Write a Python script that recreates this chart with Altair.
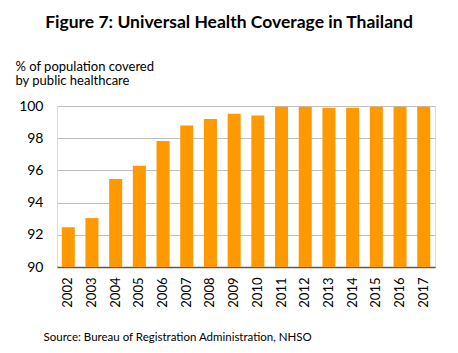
import altair as alt
import pandas as pd

years = ["2002", "2003", "2004", "2005", "2006", "2007", "2008", "2009",
         "2010", "2011", "2012", "2013", "2014", "2015", "2016", "2017"]
coverage = [92.47, 93.04, 95.47, 96.29, 97.83, 98.79, 99.2, 99.52,
            99.41, 99.95, 99.95, 99.89, 99.89, 99.95, 99.95, 99.95]

df = pd.DataFrame({"year": years, "coverage": coverage})

FONT = "Lato"

chart = alt.Chart(df).mark_bar(color="#FF9900").encode(
    x=alt.X("year:N", sort=years,
            scale=alt.Scale(paddingInner=0.45, paddingOuter=0.2),
            axis=alt.Axis(title="Source: Bureau of Registration Administration, NHSO",
                          titleFont=FONT, titleFontSize=11.5, titleFontWeight="normal",
                          titleColor="#000000", titleAnchor="start", titleAlign="left",
                          titleBaseline="alphabetic", titleX=-14, titleY=73,
                          labelAngle=-90, labelAlign="right", labelBaseline="middle",
                          labelFont=FONT, labelFontSize=13, labelColor="#000000",
                          labelPadding=10, ticks=False, domainColor="#595959",
                          domainWidth=1.3, grid=False)),
    y=alt.Y("coverage:Q",
            scale=alt.Scale(domain=[90, 100], nice=False, zero=False, clamp=True),
            axis=alt.Axis(title=["% of population covered", "by public healthcare"],
                          titleAngle=0, titleAlign="left", titleBaseline="alphabetic",
                          titleX=-42, titleY=-36, titleLineHeight=14,
                          titleFont=FONT, titleFontSize=13, titleFontWeight="normal",
                          titleColor="#000000",
                          values=[90, 92, 94, 96, 98, 100], format="d",
                          labelFont=FONT, labelFontSize=14, labelColor="#000000",
                          labelPadding=14, ticks=False, domain=False,
                          gridColor="#BFBFBF", gridWidth=1)),
).properties(
    width=378,
    height=161,
    title=alt.TitleParams("Figure 7: Universal Health Coverage in Thailand",
                          font=FONT, fontSize=17.5, fontWeight="bold", color="#000000",
                          anchor="middle", frame="group", dx=-17,
                          baseline="alphabetic", offset=15),
    autosize=alt.AutoSizeParams(type="none"),
    padding={"left": 57, "top": 106, "right": 23, "bottom": 86},
).configure_view(stroke=None).configure(background="white")

chart.save("out.html", embed_options={"renderer": "svg", "actions": False})
